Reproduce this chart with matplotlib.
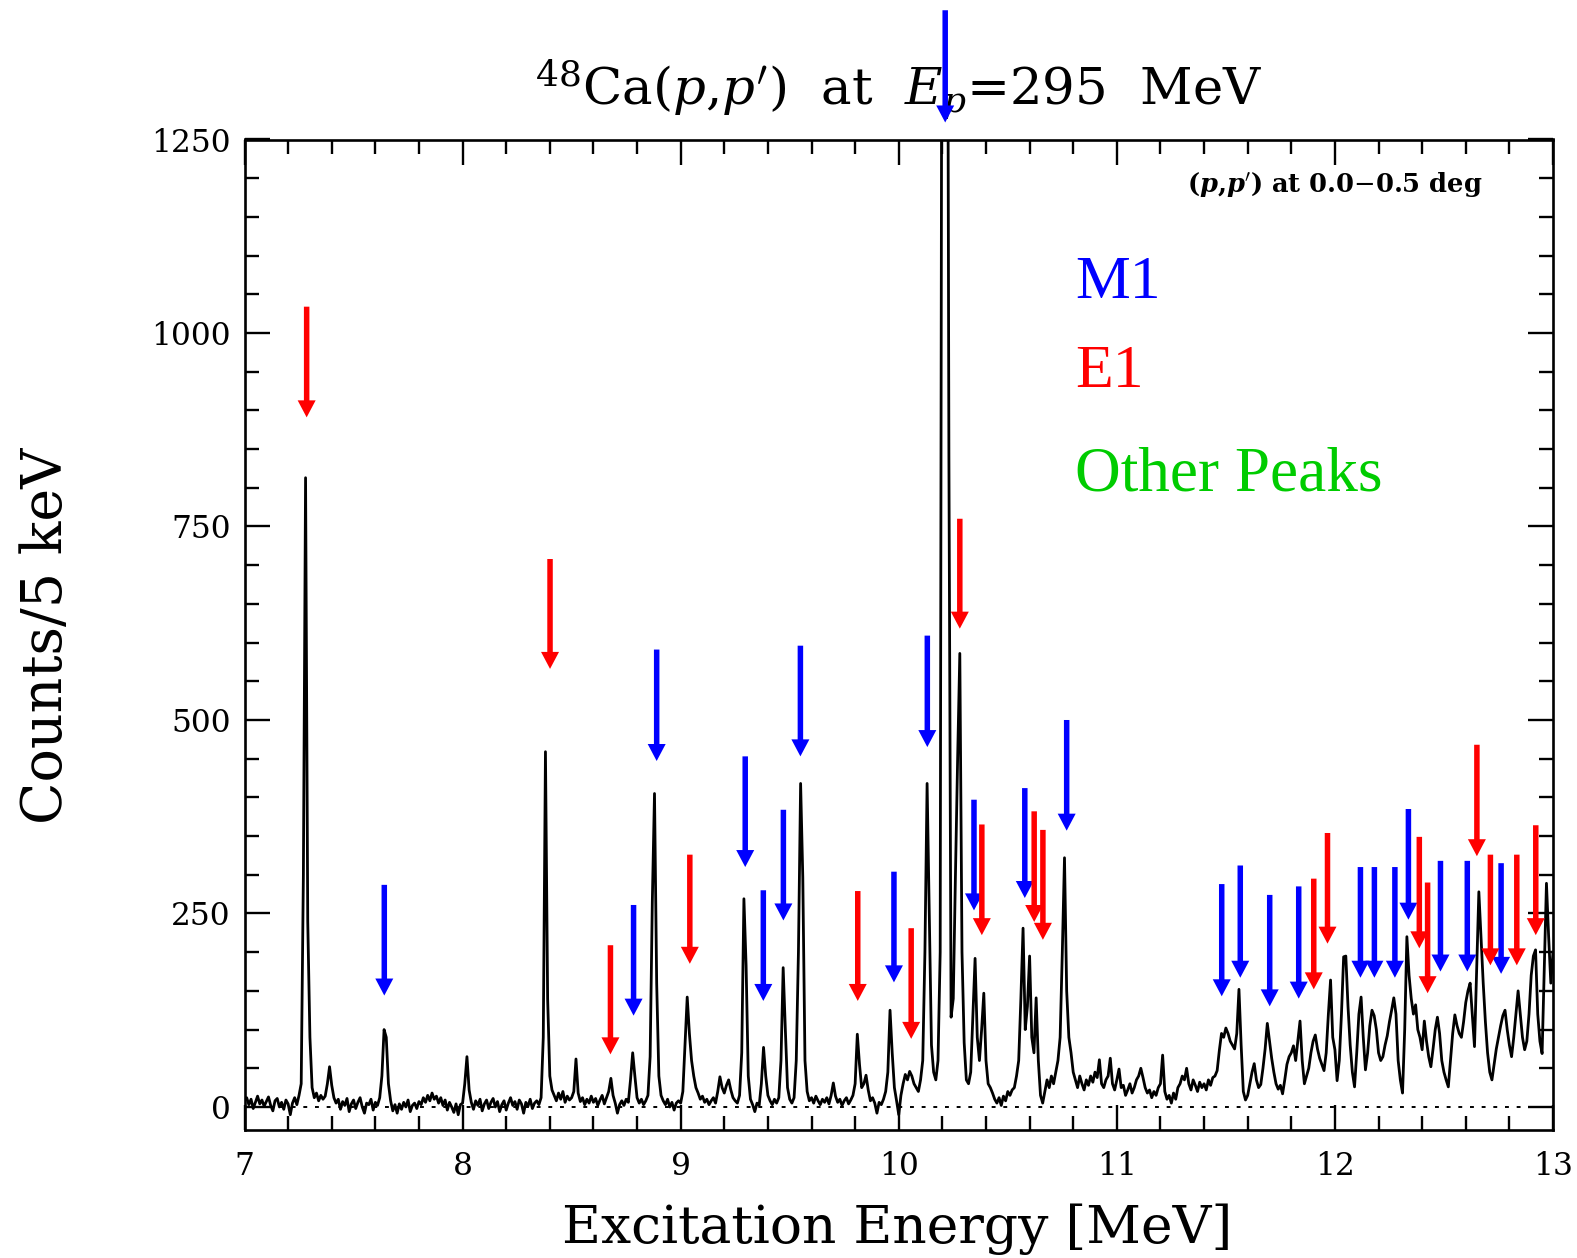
import numpy as np
import matplotlib
matplotlib.use("Agg")
import matplotlib.pyplot as plt
from matplotlib.ticker import MultipleLocator

# ---------------- data ----------------
# spectrum channels: 10 keV bins starting at 7.00 MeV
bin_start_mev = 7.00
bin_width_mev = 0.01

counts_7 = [8, 12, 3, 10, -2, 6, 14, 4, 9, 1,
            7, 13, 2, -5, 8, 11, 0, 6, -3, 9,
            4, -10, 5, 12, 3, 15, 30, 300, 813, 240,
            90, 25, 12, 18, 8, 15, 10, 14, 30, 52,
            28, 12, 5, 10, -3, 7, 2, 11, -6, 4,
            9, -2, 6, 12, 0, -8, 5, 3, 10, -4,
            6, 2, 12, 40, 100, 90, 30, 8, -5, 3,
            -8, 4, -3, 6, 0, 9, -6, 2, 5, -2,
            7, 3, 12, 6, 15, 8, 18, 10, 14, 5,
            12, 2, 9, -4, 6, 0, -7, 4, -10, 3]
counts_8 = [5, 30, 65, 22, 6, -3, 8, 2, 10, -5,
            4, 9, -2, 6, 11, 0, 7, -6, 3, 8,
            -4, 5, 12, 2, 7, -3, 9, 4, -8, 6,
            1, 10, -2, 5, 8, 3, 12, 90, 459, 140,
            40, 22, 15, 8, 18, 10, 20, 6, 14, 9,
            12, 20, 62, 18, 7, 12, 3, 10, 5, 14,
            6, 11, 2, 9, 15, 4, 12, 20, 37, 15,
            5, -8, 3, 8, 2, 10, 6, 35, 70, 40,
            12, 5, 10, 3, 8, 15, 65, 265, 405, 160,
            40, 15, 8, 3, 10, 0, 6, -4, 5, 8]
counts_9 = [5, 20, 80, 142, 95, 60, 40, 25, 18, 10,
            14, 6, 10, 3, 8, 12, 5, 20, 39, 25,
            18, 28, 35, 22, 12, 8, 5, 15, 70, 269,
            183, 40, 10, 3, -6, 5, 2, 30, 77, 40,
            15, 8, 3, 10, 5, 12, 60, 180, 100, 25,
            10, 5, 12, 60, 200, 418, 297, 60, 20, 8,
            12, 5, 14, 8, 3, 10, 6, 12, 4, 15,
            31, 14, 6, 10, 2, 8, 12, 4, 9, 15,
            30, 94, 55, 25, 30, 41, 22, 8, 12, 5,
            -8, 6, 3, 10, 20, 45, 125, 70, 25, 8]
counts_10 = [-10, 15, 30, 42, 35, 46, 40, 30, 25, 20,
             35, 60, 200, 418, 250, 80, 45, 35, 60, 200,
             1900, 2600, 2000, 840, 116, 140, 300, 450, 586, 200,
             83, 35, 30, 45, 120, 192, 90, 60, 100, 147,
             60, 30, 25, 18, 10, 5, 12, 2, 14, 8,
             20, 15, 22, 25, 40, 60, 140, 231, 100, 130,
             195, 90, 70, 141, 60, 15, 5, 20, 35, 25,
             40, 30, 45, 60, 90, 200, 322, 150, 90, 70,
             45, 35, 25, 40, 30, 22, 35, 28, 40, 32,
             45, 38, 61, 30, 25, 35, 40, 63, 30, 22]
counts_11 = [35, 49, 25, 28, 15, 22, 30, 18, 25, 35,
             40, 50, 38, 25, 18, 22, 12, 20, 15, 25,
             30, 67, 20, 10, 15, 5, 18, 10, 25, 30,
             40, 35, 50, 30, 22, 35, 28, 20, 32, 25,
             30, 22, 35, 28, 38, 40, 47, 73, 95, 90,
             102, 95, 85, 80, 75, 95, 152, 80, 20, 9,
             15, 30, 45, 56, 35, 25, 29, 50, 75, 108,
             85, 63, 45, 30, 23, 28, 17, 35, 55, 65,
             70, 79, 60, 85, 111, 60, 30, 40, 50, 70,
             85, 93, 75, 63, 55, 47, 70, 120, 164, 90]
counts_12 = [74, 34, 60, 120, 194, 195, 130, 80, 45, 26,
             70, 120, 142, 90, 48, 70, 105, 125, 118, 100,
             70, 60, 65, 80, 92, 110, 125, 141, 120, 60,
             35, 18, 100, 220, 170, 140, 120, 132, 100, 90,
             74, 111, 85, 65, 52, 75, 100, 116, 95, 60,
             45, 35, 26, 60, 95, 119, 105, 95, 90, 110,
             135, 150, 160, 120, 78, 180, 278, 220, 160, 110,
             70, 45, 35, 55, 75, 90, 105, 118, 125, 100,
             80, 65, 90, 120, 150, 120, 90, 74, 85, 120,
             170, 195, 203, 120, 85, 69, 180, 289, 220, 160,
             200]

# M1 (blue) arrows: energy [MeV], tail and tip heights [counts]
m1_energy = [7.641, 8.784, 8.890, 9.296, 9.379, 9.471, 9.549, 9.978, 10.131,
             10.213, 10.345, 10.578, 10.770, 11.481, 11.566, 11.701, 11.834,
             12.117, 12.181, 12.275, 12.337, 12.484, 12.607, 12.762]
m1_tail = [287, 261, 591, 453, 280, 384, 596, 304, 609,
           1417, 397, 412, 500, 288, 312, 274, 285,
           310, 310, 310, 385, 318, 318, 315]
m1_tip = [144, 118, 447, 310, 137, 241, 453, 161, 465,
          1272, 254, 270, 357, 143, 167, 130, 140,
          167, 167, 167, 242, 175, 175, 172]

# E1 (red) arrows
e1_energy = [7.285, 8.401, 8.678, 9.042, 9.812, 10.057, 10.280, 10.381, 10.621,
             10.661, 11.903, 11.966, 12.387, 12.425, 12.651, 12.713, 12.834, 12.921]
e1_tail = [1034, 708, 209, 326, 279, 231, 760, 365, 382,
           358, 295, 354, 349, 290, 468, 326, 326, 364]
e1_tip = [891, 566, 68, 185, 137, 88, 618, 222, 239,
          216, 152, 211, 205, 147, 324, 183, 183, 222]

y_ticks = [0, 250, 500, 750, 1000, 1250]
x_ticks = [7, 8, 9, 10, 11, 12, 13]

# ---------------- figure ----------------
plt.rcParams['font.family'] = ['DejaVu Serif']
plt.rcParams['mathtext.fontset'] = 'dejavuserif'

W, H = 1577, 1258
fig = plt.figure(figsize=(W / 100, H / 100), dpi=100)
ax_l, ax_r, ax_t, ax_b = 244.5, 1553.0, 139.5, 1130.2
ax = fig.add_axes([ax_l / W, 1 - ax_b / H, (ax_r - ax_l) / W, (ax_b - ax_t) / H])

counts = np.array(counts_7 + counts_8 + counts_9 + counts_10 + counts_11 + counts_12, dtype=float)
energy = bin_start_mev + bin_width_mev * np.arange(len(counts))

ax.plot(energy, counts, color='black', lw=2.0, zorder=3)
ax.axhline(0, color='black', lw=1.4, linestyle=(0, (2, 4)), zorder=2)

ax.set_xlim(7, 13)
ax.set_ylim(-30, 1250)

ax.xaxis.set_major_locator(MultipleLocator(1))
ax.xaxis.set_minor_locator(MultipleLocator(0.2))
ax.yaxis.set_major_locator(MultipleLocator(250))
ax.yaxis.set_minor_locator(MultipleLocator(50))
ax.set_xticks(x_ticks)
ax.set_yticks(y_ticks)
ax.set_xticklabels([str(v) for v in x_ticks])
ax.set_yticklabels([str(v) for v in y_ticks])

ax.tick_params(which='both', direction='in', top=True, right=True, width=1.7, labelsize=22.5)
ax.tick_params(which='major', length=18)
ax.tick_params(which='minor', length=10)
ax.tick_params(axis='y', pad=10)
ax.tick_params(axis='x', pad=15)
for s in ax.spines.values():
    s.set_linewidth(1.9)

# arrows
px_x = (ax_r - ax_l) / 6.0          # pixels per MeV
px_y = (ax_b - ax_t) / 1280.0       # pixels per count
shaft_w = 5.5 / px_x
head_w = 18.0 / px_x
head_l = 17.0 / px_y
for e, t, p in zip(m1_energy, m1_tail, m1_tip):
    a = ax.arrow(e, t, 0, p - t, width=shaft_w, head_width=head_w, head_length=head_l,
                 length_includes_head=True, color='#0000ff', lw=0, zorder=6)
    a.set_clip_on(False)
for e, t, p in zip(e1_energy, e1_tail, e1_tip):
    a = ax.arrow(e, t, 0, p - t, width=shaft_w, head_width=head_w, head_length=head_l,
                 length_includes_head=True, color='#ff0000', lw=0, zorder=6)
    a.set_clip_on(False)

# texts
ax.text(0.5, 1.036, r'$^{48}$Ca($p$,$p^{\prime}$)  at  $E_p$=295  MeV', transform=ax.transAxes,
        ha='center', va='baseline', fontsize=37, zorder=1, clip_on=False)
ax.text(0.499, -0.114, 'Excitation Energy [MeV]', transform=ax.transAxes,
        ha='center', va='baseline', fontsize=38.5)
ax.text(-0.1395, 0.499, 'Counts/5 keV', transform=ax.transAxes, rotation=90,
        rotation_mode='anchor', ha='center', va='baseline', fontsize=40)
ax.text(12.679, 1181, r'($\mathbfit{p}$,$\mathbfit{p}^{\prime}$) at 0.0$-$0.5 deg', ha='right', va='baseline',
        fontsize=18.5, fontweight='bold')
ax.text(10.808, 1045, 'M1', color='#0000ff', fontsize=44.5, family='Liberation Serif', va='baseline')
ax.text(10.808, 930, 'E1', color='#ff0000', fontsize=44.5, family='Liberation Serif', va='baseline')
ax.text(10.808, 796, 'Other Peaks', color='#00cc00', fontsize=45.5, family='Liberation Serif', va='baseline')

fig.savefig('out.png', dpi=100)
